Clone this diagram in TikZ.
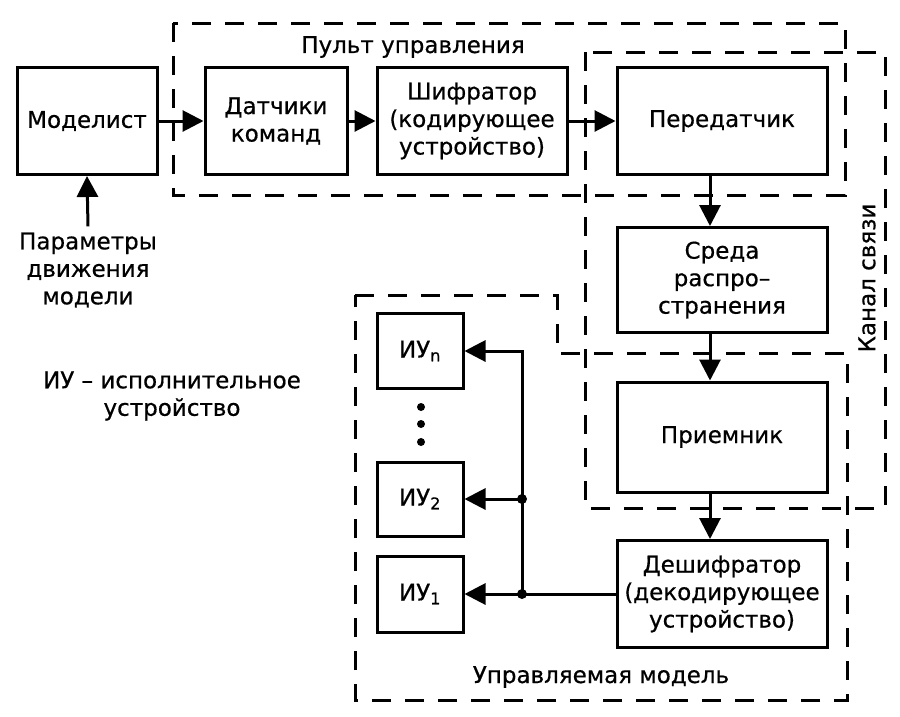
\documentclass[tikz,border=0pt]{standalone}
\usepackage{fontspec}
\setmainfont{DejaVu Sans}[RawFeature={embolden=0.6}]
\usetikzlibrary{arrows.meta,calc}
\begin{document}
\begin{tikzpicture}[x=1pt,y=-1pt,
  blk/.style={draw, line width=3pt, align=center, inner sep=0pt},
  grp/.style={draw, line width=3pt, dash pattern=on 19pt off 14pt},
  arr/.style={line width=3pt, -{Triangle[length=21pt,width=21pt]}},
  lbl/.style={align=center, inner sep=0pt},
  jdot/.style={circle, fill, inner sep=0pt, minimum size=10pt},
  edot/.style={circle, fill, inner sep=0pt, minimum size=8pt},
  font=\fontsize{23}{27.5}\selectfont]
\fill[white] (0,0) rectangle (900,716);
\useasboundingbox (0,0) rectangle (900,716);

% group frames
\draw[grp] (173,23) rectangle (845,195);
\draw[grp] (585,52) rectangle (885,508);
\draw[grp] (355,295) -- (557,295) -- (557,353) -- (847,353) -- (847,700) -- (355,700) -- cycle;

% blocks
\node[blk, minimum width=140pt, minimum height=107pt] (m) at (87,121) {Моделист};
\node[blk, minimum width=142pt, minimum height=107pt] (ds) at (276,121) {Датчики\\команд};
\node[blk, minimum width=190pt, minimum height=107pt] (sh) at (472,121) {Шифратор\\(кодирующее\\устройство)};
\node[blk, minimum width=210pt, minimum height=107pt] (tx) at (722,121) {Передатчик};
\node[blk, minimum width=210pt, minimum height=105pt] (sr) at (722,280) {Среда\\распро–\\странения};
\node[blk, minimum width=210pt, minimum height=110pt] (rx) at (722,437) {Приемник};
\node[blk, minimum width=210pt, minimum height=107pt] (dec) at (722,594) {Дешифратор\\(декодирующее\\устройство)};
\node[blk, minimum width=86pt, minimum height=75pt] (iun) at (420,351) {ИУ\textsubscript{n}};
\node[blk, minimum width=86pt, minimum height=74pt] (iu2) at (420,499) {ИУ\textsubscript{2}};
\node[blk, minimum width=86pt, minimum height=76pt] (iu1) at (420,594) {ИУ\textsubscript{1}};

% labels
\node[lbl] (tp) at (413,47) {Пульт управления};
\node[lbl, rotate=90] (tk) at (867,278) {Канал связи};
\node[lbl] (tm) at (601,677) {Управляемая модель};
\node[lbl] (par) at (88,270) {Параметры\\движения\\модели};
\node[lbl] (iu) at (172,396) {ИУ – исполнительное\\устройство};

% ellipsis dots
\node[edot] (e1) at (421,407) {};
\node[edot] (e2) at (421,424) {};
\node[edot] (e3) at (421,442) {};

% connectors
\coordinate (ax) at (710,0);
\draw[arr] (m) -- (ds);
\draw[arr] (ds) -- (sh);
\draw[arr] (sh) -- (tx);
\draw[arr] (tx.south -| ax) -- (sr.north -| ax);
\draw[arr] (sr.south -| ax) -- (rx.north -| ax);
\draw[arr] (rx.south -| ax) -- (dec.north -| ax);
\draw[arr] ([yshift=6pt]par.north) -- (m.south);

\coordinate (j1) at (522,594);
\coordinate (j2) at (522,499);
\draw[arr] (dec.west) -- (iu1.east);
\draw[arr] (j1) |- (iun.east);
\draw[arr] (j2) -- (iu2.east);
\node[jdot] (d1) at (j1) {};
\node[jdot] (d2) at (j2) {};
\end{tikzpicture}
\end{document}
